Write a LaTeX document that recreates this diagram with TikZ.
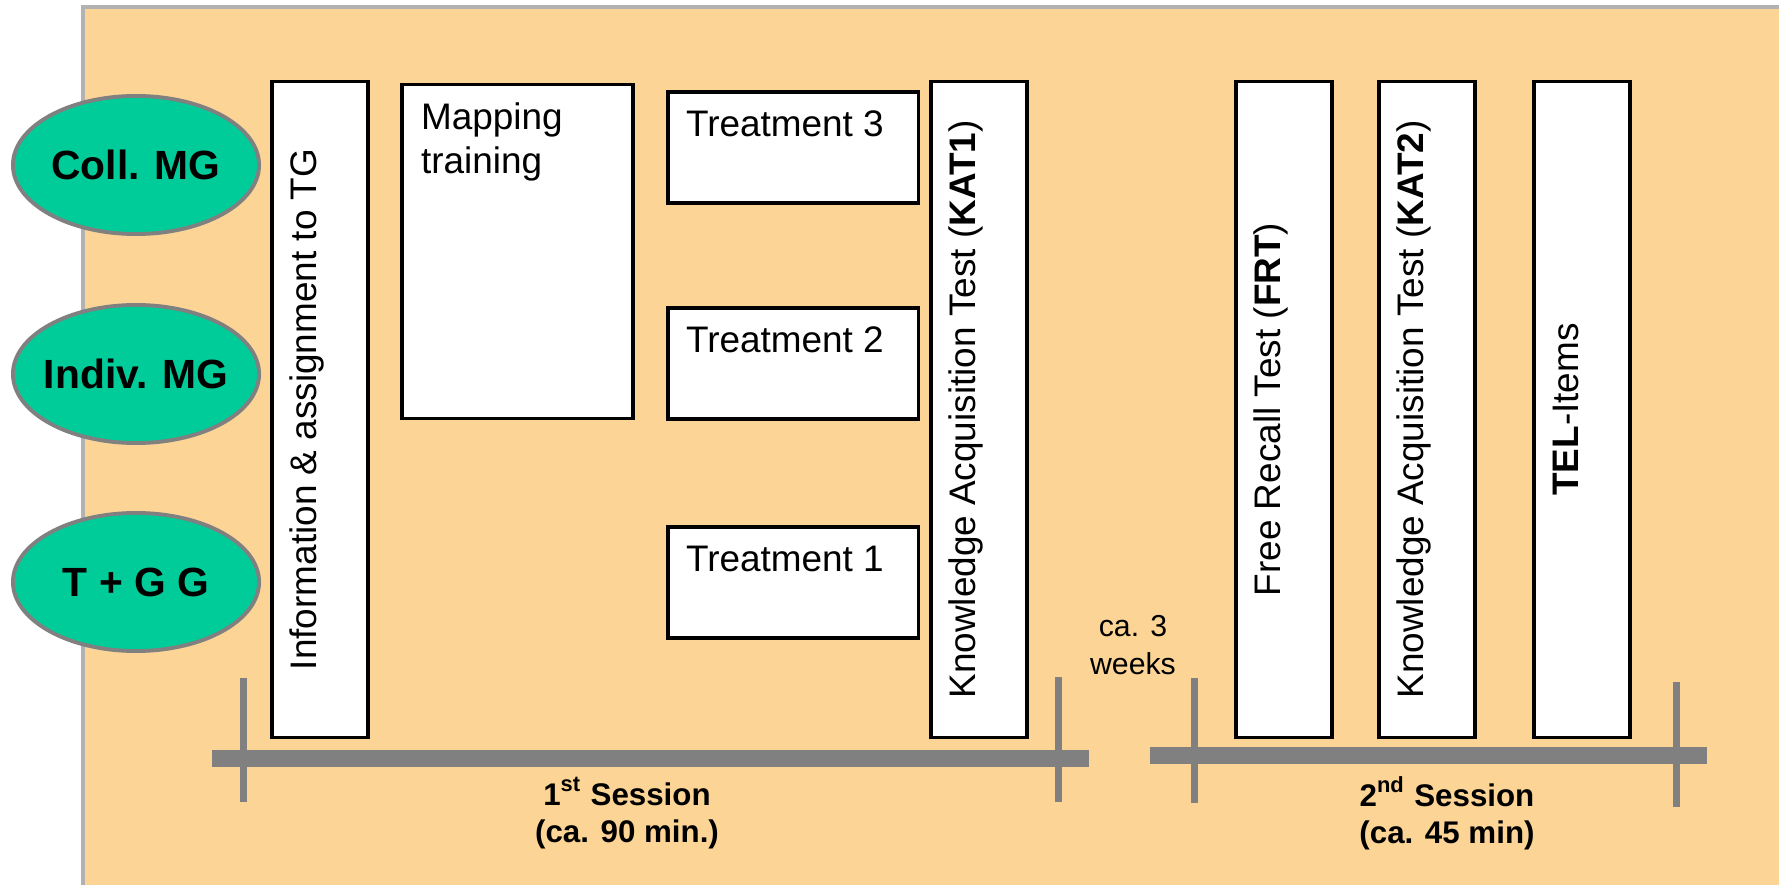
\documentclass[tikz,border=0pt]{standalone}
\usepackage{fontspec}
\setmainfont{Liberation Sans}
\usetikzlibrary{shapes.geometric, positioning, calc}
\definecolor{paper}{RGB}{251,212,150}
\definecolor{groupgreen}{RGB}{0,204,153}

\begin{document}
\begin{tikzpicture}[x=0.01cm, y=-0.01cm]
    \tikzstyle{group} = [ellipse, draw=black!50, line width=1.1pt, fill=groupgreen, minimum width=2.46cm, minimum height=1.38cm, inner sep=0pt, label={[font=\fontsize{11.6}{14}\selectfont\bfseries]center:#1}]
    \tikzstyle{stepbox} = [rectangle, draw=black, line width=0.9pt, fill=white, inner sep=0pt]
    \tikzstyle{tall} = [stepbox, minimum width=0.96cm, minimum height=6.55cm]
    \tikzstyle{treat} = [stepbox, minimum width=2.5cm, minimum height=1.11cm]
    \tikzstyle{vtext} = [rotate=90, anchor=base, inner sep=0pt, font=\fontsize{10.5}{13}\selectfont]
    \tikzstyle{htext} = [anchor=base west, inner sep=0pt, align=left, font=\fontsize{10.5}{12.5}\selectfont]
    \tikzstyle{bar} = [draw=black!50, line width=0.17cm]
    \tikzstyle{tick} = [draw=black!50, line width=0.07cm]
    \tikzstyle{session} = [anchor=base, align=center, inner sep=0pt, font=\fontsize{8.9}{10.5}\selectfont\bfseries]

    \useasboundingbox (0,0) rectangle (1779,885);
    \fill[paper, draw=black!30, line width=0.9pt] (83,7) rectangle (1800,900);

    % groups
    \node[group=Coll. MG] (coll) at (136,165) {};
    \node[group=Indiv. MG] (indiv) at (136,374) {};
    \node[group=T + G G] (tgg) at (136,582) {};

    % 1st session
    \node[tall] (info) at (320,409.5) {};
    \node[stepbox, minimum width=2.31cm, minimum height=3.33cm] (mapping) at (517.5,251.5) {};
    \node[treat] (treat3) at (793,147.5) {};
    \node[treat] (treat2) at (793,363.5) {};
    \node[treat] (treat1) at (793,582.5) {};
    \node[tall] (kat1) at (979,409.5) {};

    % 2nd session
    \node[tall] (frt) at (1284,409.5) {};
    \node[tall] (kat2) at (1427,409.5) {};
    \node[tall] (tel) at (1582,409.5) {};

    % texts in the boxes
    \node[vtext] (infotext) at ([xshift=0.46cm]info.west) {Information \& assignment to TG};
    \node[htext] (mappingtext) at ([xshift=0.2cm, yshift=-0.9cm]mapping.north west) {Mapping\\training};
    \node[htext] (treat3text) at ([xshift=0.19cm, yshift=-0.46cm]treat3.north west) {Treatment 3};
    \node[htext] (treat2text) at ([xshift=0.19cm, yshift=-0.46cm]treat2.north west) {Treatment 2};
    \node[htext] (treat1text) at ([xshift=0.19cm, yshift=-0.46cm]treat1.north west) {Treatment 1};
    \node[vtext] (kat1text) at ([xshift=0.46cm]kat1.west) {Knowledge Acquisition Test (\textbf{KAT1})};
    \node[vtext] (frttext) at ([xshift=0.46cm]frt.west) {Free Recall Test (\textbf{FRT})};
    \node[vtext] (kat2text) at ([xshift=0.46cm]kat2.west) {Knowledge Acquisition Test (\textbf{KAT2})};
    \node[vtext] (teltext) at ([xshift=0.46cm]tel.west) {\textbf{TEL}-Items};

    % time line
    \coordinate (s1start) at (212,758);
    \coordinate (s1end) at (1089,758);
    \coordinate (s2start) at (1150,755);
    \coordinate (s2end) at (1707,755);
    \draw[bar] (s1start) -- (s1end);
    \draw[bar] (s2start) -- (s2end);
    \draw[tick] (243,678) -- (243,802);
    \draw[tick] (1058,677) -- (1058,802);
    \draw[tick] (1194,678) -- (1194,803);
    \draw[tick] (1676,682) -- (1676,807);

    \node[session] (session1) at (627,842) {1\textsuperscript{st} Session\\(ca. 90 min.)};
    \node[session] (session2) at (1447,843) {2\textsuperscript{nd} Session\\(ca. 45 min)};
    \node[anchor=base, align=center, inner sep=0pt, font=\fontsize{8.6}{10.8}\selectfont] (gap) at (1133,674) {ca. 3\\weeks};
\end{tikzpicture}
\end{document}
